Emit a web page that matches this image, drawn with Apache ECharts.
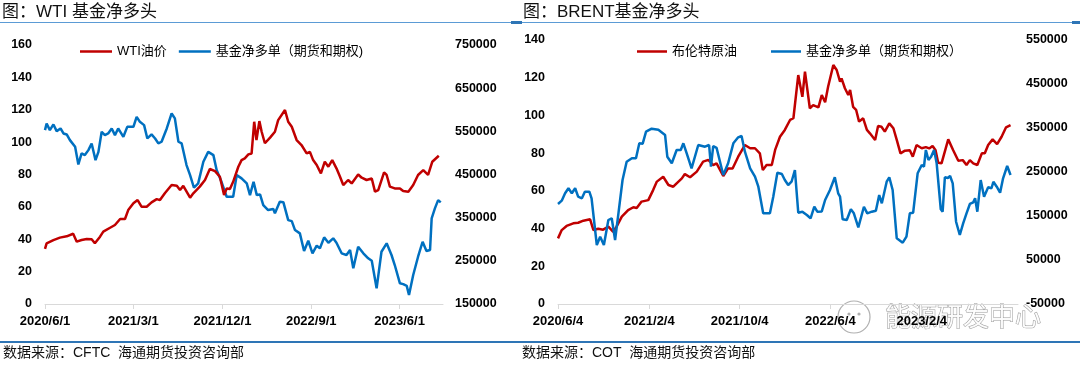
<!DOCTYPE html>
<html>
<head>
<meta charset="utf-8">
<script src="https://cdn.jsdelivr.net/npm/echarts@6/dist/echarts.min.js"></script>
<style>
html,body{margin:0;padding:0;background:#fff;}
#chart{width:1080px;height:368px;}
</style>
</head>
<body>
<div id="chart"></div>
<script>
// ---------- Data (x = days since first tick date) ----------
const wtiTickDays = [0, 273, 548, 822, 1095];
const wtiTickLabels = ['2020/6/1', '2021/3/1', '2021/12/1', '2022/9/1', '2023/6/1'];
const brentTickDays = [0, 245, 487, 730, 975];
const brentTickLabels = ['2020/6/4', '2021/2/4', '2021/10/4', '2022/6/4', '2023/2/4'];
const wtiNetTicks = [150000, 250000, 350000, 450000, 550000, 650000, 750000];
const brentNetTicks = [-50000, 50000, 150000, 250000, 350000, 450000, 550000];

const wtiPriceDays = [0,5,26,46,67,87,98,113,129,144,154,170,180,201,216,232,247,257,273,286,298,314,329,345,355,370,391,407,417,427,448,458,478,494,509,525,540,553,561,571,581,597,607,617,628,638,646,653,662,669,679,695,710,720,741,751,762,777,792,808,818,828,839,852,864,875,887,900,911,921,936,947,967,978,993,1009,1019,1029,1047,1055,1065,1080,1096,1106,1122,1137,1152,1168,1183,1196,1216];
const wtiPrice = [34,37.5,39.5,41,41.8,43.4,38.5,39.5,40.1,40,37.5,41.6,44.7,47.1,48.8,52.5,52.5,58,62.2,64.2,60.1,60.1,62.8,64.8,64.2,68.4,73.5,73,70.4,73,65.7,68.4,72.5,76.6,83.4,82.1,78.6,67.3,71.4,71,75.5,84.8,88.9,90,92.4,93,112.6,101.3,113,106.4,99.3,102.8,106.4,113.6,119.8,112.6,109.5,101.3,98.2,93.1,94,88.9,85.9,80.7,87.9,84.8,88.9,83.8,78.6,73.5,76.6,74.5,80,78,76.6,77.5,69.4,70.4,81.3,79.7,72.5,71.4,71.4,69.8,69.4,73.5,79.7,82.7,79.7,87.9,91.6];

const wtiNetDays = [0,5,10,15,26,36,48,57,67,77,93,103,113,123,134,144,156,165,175,185,195,206,216,226,242,254,273,283,293,306,316,329,340,350,360,376,391,401,412,422,437,448,460,473,489,504,520,530,545,561,581,592,607,623,633,644,654,664,674,689,705,710,725,736,751,762,772,787,800,813,826,839,849,862,875,890,900,916,931,942,952,967,983,998,1009,1024,1039,1055,1070,1080,1096,1106,1117,1124,1137,1152,1166,1178,1189,1194,1204,1214,1222];
const wtiNetLong = [552800,568300,568300,552800,566000,550500,556700,545100,542800,529600,514100,473300,498800,495000,506500,522000,483300,502500,548900,541200,545100,556700,541200,556700,537300,560400,560400,583600,572000,564400,533500,542800,533500,522000,525900,556700,591400,579900,525900,522000,471800,448600,419300,429400,479400,502500,494900,460200,433100,398400,398400,448600,441000,429400,402300,433100,402300,404000,379200,367600,370000,360000,386800,386000,344400,342000,321300,313600,272700,296500,267400,285000,279000,304400,292000,302100,292000,267400,263500,275000,232600,282700,267400,255800,250000,186300,271000,290500,263500,240300,197900,196000,192000,170800,217100,259500,294200,272700,275000,348400,371500,390700,385400];

const brentPriceDays = [0,10,23,41,54,68,86,95,108,121,135,148,157,171,188,202,211,224,242,255,265,282,296,309,318,332,340,354,372,389,403,416,425,443,456,468,483,501,515,528,541,549,559,573,582,595,608,622,631,644,655,662,675,684,698,707,716,724,738,747,756,760,769,778,783,791,799,807,818,828,836,850,858,867,876,888,899,908,918,930,943,951,961,975,986,995,1004,1012,1019,1028,1046,1059,1073,1085,1095,1104,1113,1124,1136,1144,1153,1165,1177,1189,1201,1213];
const brentPrice = [34.8,39.2,41.4,42.8,43.1,44.2,44.9,39.2,39.9,39.4,41,38.3,41,46.3,49.8,51.3,50.9,54.3,55.1,60.4,64.9,67.5,63.1,62.2,64,66.6,68.9,67.2,70.2,75.5,76.4,73.7,74.6,67.9,71.9,71.9,78.1,84.3,82.6,82.6,79.9,71,73.7,73.7,81.7,88.7,92.3,97.6,98.5,121.4,109.9,123.2,103.8,105.5,104.3,110.8,107,115.2,126.7,124.1,117.9,119.6,114.4,110.8,113.5,104.6,103,96.7,98.5,92.3,90.5,87,94.4,94,91.4,95.8,93.2,87,79.9,81.3,81.5,78.1,84.3,82.6,83.2,82.5,83.8,81.5,74.9,74.6,87.3,81.7,76,76.3,73.7,76.3,74.6,73.7,79.9,79.9,84.3,87.3,84.8,88.7,93.7,94.9];

const brentNetDays = [0,10,19,28,37,46,54,64,72,84,90,104,113,123,135,144,153,162,173,184,198,209,218,227,236,251,269,287,293,298,305,318,329,336,345,358,376,394,405,410,416,425,443,456,470,483,492,501,515,528,537,550,568,577,588,600,608,617,626,635,644,655,667,677,687,695,707,716,729,742,751,756,763,774,785,793,805,820,829,841,852,861,868,881,888,897,908,924,934,943,952,964,975,981,986,993,1000,1008,1015,1026,1031,1037,1045,1051,1058,1067,1077,1086,1095,1104,1113,1118,1124,1133,1142,1153,1162,1167,1176,1185,1193,1204,1213];
const brentNetLong = [177300,184800,201600,213000,201600,213000,193900,190200,205200,205200,190200,84100,103000,84100,140900,144800,95500,156100,231800,273400,281100,281100,315200,314400,341600,348400,345900,334100,284800,281100,269800,300000,300000,315200,292500,258400,311400,307500,311400,262000,309000,305000,243200,269800,315200,328800,331800,296100,258400,239300,216600,156100,156100,193900,248400,245500,231800,220500,227900,254500,157500,159800,152300,144800,171100,159800,160500,186400,209100,238000,201600,193900,142500,140900,165200,156100,124300,171100,156100,159800,162000,197700,178900,227900,238000,209100,99300,89300,103000,156100,157500,247000,265900,262000,300000,277300,284800,300000,269800,165200,159800,238000,236400,240900,224200,137000,106800,133400,156100,177300,181100,190200,159800,231800,193900,215200,213000,227900,216600,203000,235700,263600,243200];

// ---------- Chart ----------
const FONT = "'Liberation Sans','Noto Sans CJK SC',sans-serif";
const RED = '#c00000', BLUE = '#0070c0';
const zip = (xs, ys) => xs.map((x, i) => [x, ys[i]]);

function xAxisOf(grid, max, days, labels) {
  return {
    gridIndex: grid, type: 'value', min: 0, max: max,
    axisLine: { show: true, lineStyle: { color: '#d9d9d9', width: 1 } },
    axisTick: { show: true, customValues: days, length: 5, lineStyle: { color: '#d9d9d9' } },
    axisLabel: {
      customValues: days, margin: 11, color: '#000', fontSize: 13, fontWeight: 'bold', fontFamily: FONT,
      formatter: v => labels[days.indexOf(v)]
    },
    splitLine: { show: false }
  };
}
function yAxisOf(grid, pos, min, max, ticks, margin) {
  const ax = {
    gridIndex: grid, type: 'value', position: pos, min: min, max: max,
    axisLine: { show: false }, axisTick: { show: false }, splitLine: { show: false },
    axisLabel: { color: '#000', fontSize: 12.5, fontWeight: 'bold', fontFamily: FONT, margin: margin,
      formatter: v => String(v) }
  };
  if (ticks) { ax.axisLabel.customValues = ticks; } else { ax.interval = 20; }
  return ax;
}
const lineStyle = c => ({ color: c, width: 2.5 });

const option = {
  animation: false,
  textStyle: { fontFamily: FONT },
  grid: [
    { left: 45, top: 45, width: 398, height: 259 },
    { left: 558, top: 40, width: 460, height: 264 }
  ],
  xAxis: [
    xAxisOf(0, 1229, wtiTickDays, wtiTickLabels),
    xAxisOf(1, 1233, brentTickDays, brentTickLabels)
  ],
  yAxis: [
    yAxisOf(0, 'left', 0, 160, null, 13),
    yAxisOf(0, 'right', 150000, 750000, wtiNetTicks, 12),
    yAxisOf(1, 'left', 0, 140, null, 13),
    yAxisOf(1, 'right', -50000, 550000, brentNetTicks, 8)
  ],
  legend: [
    { left: 80, top: 45, padding: 0, icon: 'rect', itemWidth: 32, itemHeight: 2.5, itemGap: 12,
      textStyle: { fontSize: 13, color: '#000', fontFamily: FONT },
      data: ['WTI油价', '基金净多单（期货和期权)'] },
    { left: 637, top: 45, padding: 0, icon: 'rect', itemWidth: 30, itemHeight: 2.5, itemGap: 34,
      textStyle: { fontSize: 13, color: '#000', fontFamily: FONT },
      data: ['布伦特原油', '基金净多单（期货和期权）'] }
  ],
  series: [
    { name: 'WTI油价', type: 'line', xAxisIndex: 0, yAxisIndex: 0, data: zip(wtiPriceDays, wtiPrice),
      showSymbol: false, lineStyle: lineStyle(RED), itemStyle: { color: RED }, z: 3 },
    { name: '基金净多单（期货和期权)', type: 'line', xAxisIndex: 0, yAxisIndex: 1, data: zip(wtiNetDays, wtiNetLong),
      showSymbol: false, lineStyle: lineStyle(BLUE), itemStyle: { color: BLUE }, z: 2 },
    { name: '布伦特原油', type: 'line', xAxisIndex: 1, yAxisIndex: 2, data: zip(brentPriceDays, brentPrice),
      showSymbol: false, lineStyle: lineStyle(RED), itemStyle: { color: RED }, z: 2 },
    { name: '基金净多单（期货和期权）', type: 'line', xAxisIndex: 1, yAxisIndex: 3, data: zip(brentNetDays, brentNetLong),
      showSymbol: false, lineStyle: lineStyle(BLUE), itemStyle: { color: BLUE }, z: 3 }
  ],
  graphic: [
    { type: 'text', left: 2, top: 4, style: { text: '图：WTI 基金净多头', font: "17px " + FONT, fill: '#111' } },
    { type: 'text', left: 523, top: 4, style: { text: '图：BRENT基金净多头', font: "17px " + FONT, fill: '#111' } },
    { type: 'rect', shape: { x: 0, y: 22, width: 1080, height: 1 }, style: { fill: '#5b9bd5' } },
    { type: 'rect', shape: { x: 511, y: 21, width: 11, height: 3 }, style: { fill: '#2e75b6' } },
    { type: 'rect', shape: { x: 1072, y: 21, width: 8, height: 3 }, style: { fill: '#2e75b6' } },
    { type: 'rect', shape: { x: 0, y: 341, width: 1080, height: 2 }, style: { fill: '#2e75b6' } },
    { type: 'text', left: 3, top: 346, style: { text: '数据来源：CFTC  海通期货投资咨询部', font: "14px " + FONT, fill: '#111' } },
    { type: 'text', left: 522, top: 346, style: { text: '数据来源：COT  海通期货投资咨询部', font: "14px " + FONT, fill: '#111' } },
    { type: 'group', z: 100, children: [
      { type: 'rect', shape: { x: 843, y: 306, width: 205, height: 30 }, style: { fill: 'rgba(255,255,255,0.75)' } },
      { type: 'circle', shape: { cx: 854, cy: 317, r: 16 }, style: { fill: 'rgba(255,255,255,0.95)', stroke: '#b0b0b0', lineWidth: 1.2 } },
      { type: 'circle', shape: { cx: 849, cy: 314, r: 1.6 }, style: { fill: '#b0b0b0' } },
      { type: 'circle', shape: { cx: 859, cy: 314, r: 1.6 }, style: { fill: '#b0b0b0' } },
      { type: 'text', x: 885, y: 303, style: { text: '能源研发中心', font: "26px 'Noto Sans CJK SC'", fill: 'rgba(255,255,255,0.9)', stroke: '#9a9a9a', lineWidth: 1 } }
    ] }
  ]
};

const chart = echarts.init(document.getElementById('chart'), null, { renderer: 'canvas' });
chart.setOption(option);
</script>
</body>
</html>
